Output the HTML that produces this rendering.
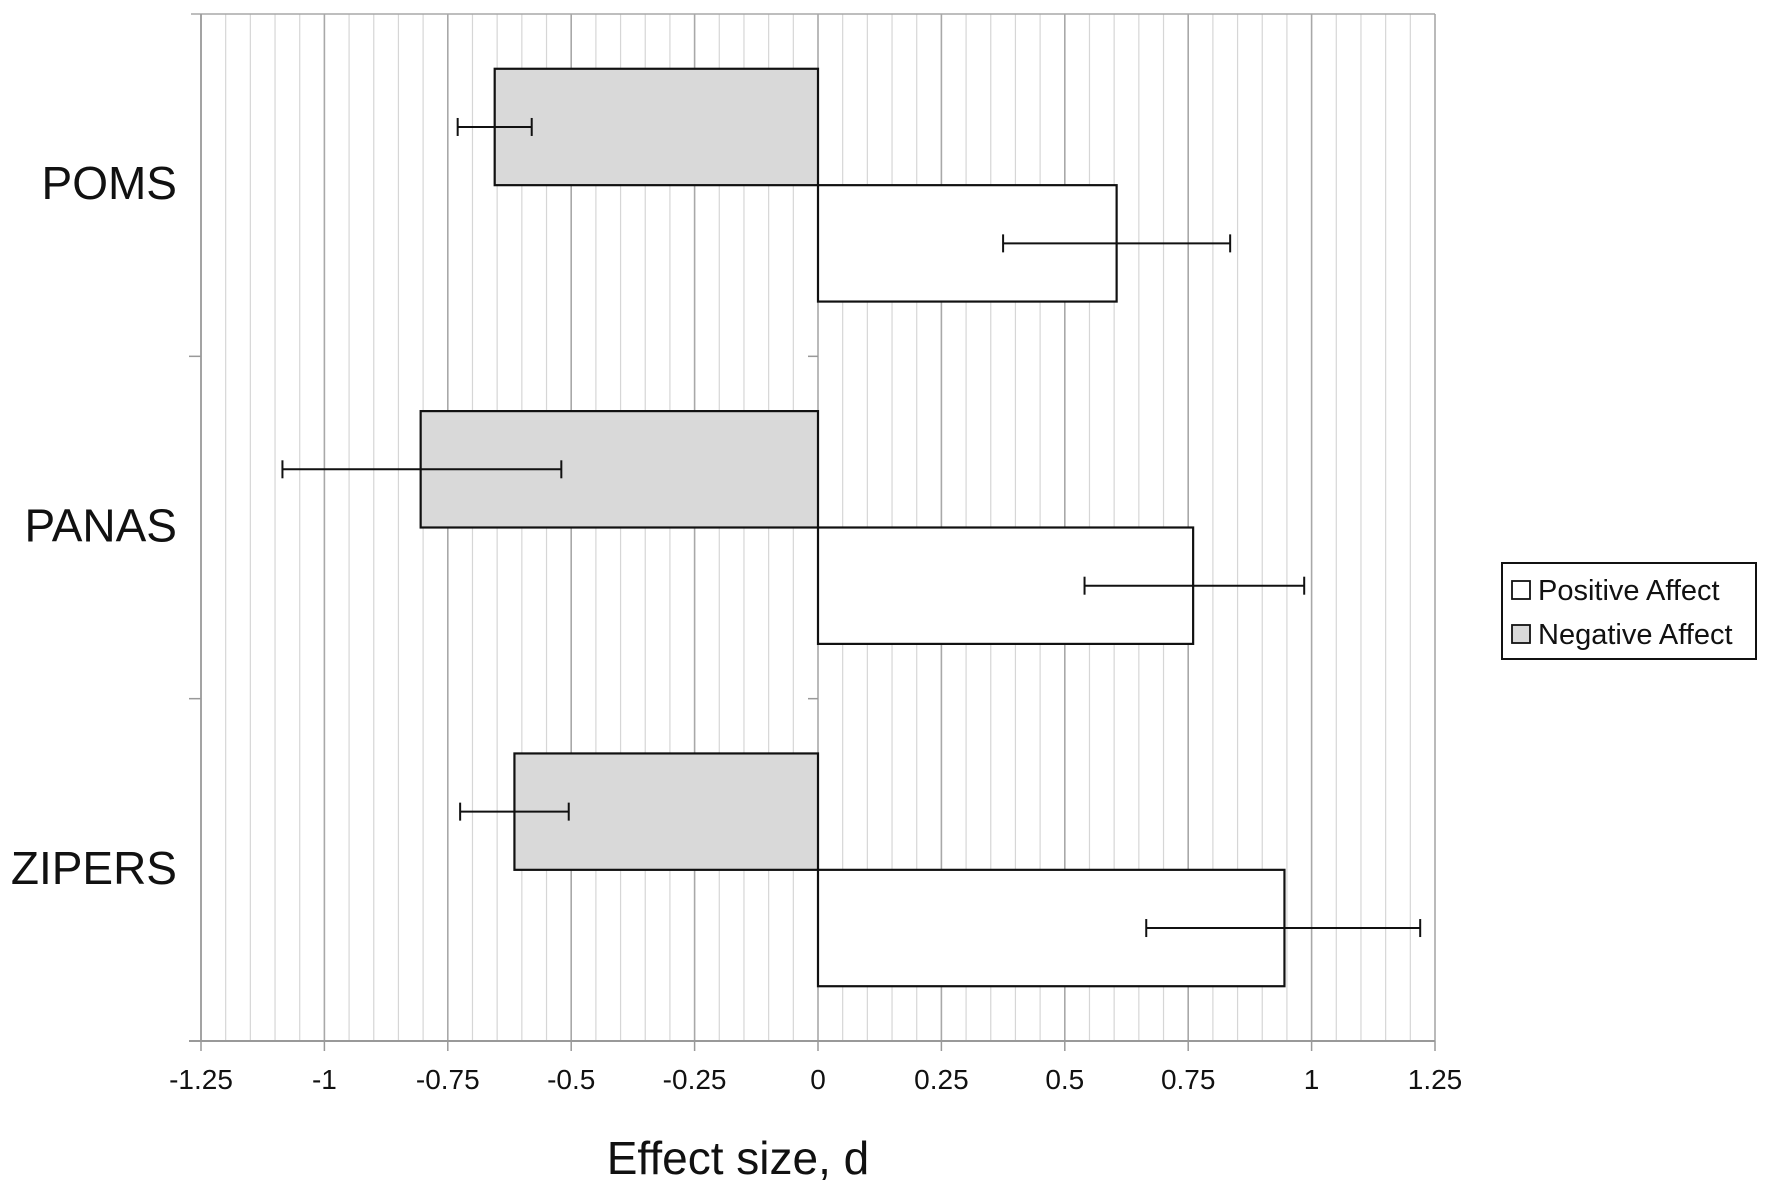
<!DOCTYPE html>
<html><head><meta charset="utf-8"><style>
body{margin:0;background:#fff;}
svg text{font-family:"Liberation Sans",sans-serif;fill:#111;}
</style></head><body>
<svg id="chart" width="1772" height="1190" xmlns="http://www.w3.org/2000/svg"></svg>
<script>
const categories = ["POMS","PANAS","ZIPERS"];
const negValues = [-0.655,-0.805,-0.615];
const negErrLow = [-0.73,-1.085,-0.725];
const negErrHigh = [-0.58,-0.52,-0.505];
const posValues = [0.605,0.76,0.945];
const posErrLow = [0.375,0.54,0.665];
const posErrHigh = [0.835,0.985,1.22];
const tickValues = [-1.25,-1,-0.75,-0.5,-0.25,0,0.25,0.5,0.75,1,1.25];
const tickLabels = ["-1.25","-1","-0.75","-0.5","-0.25","0","0.25","0.5","0.75","1","1.25"];

const NS="http://www.w3.org/2000/svg";
const svg=document.getElementById('chart');
const L=201,R=1435,T=14,B=1041;
const xMin=-1.25,xMax=1.25;
function x(v){return L+(v-xMin)/(xMax-xMin)*(R-L);}
const band=(B-T)/categories.length;
const barH=band*0.34;
function mk(tag,attrs,parent){const e=document.createElementNS(NS,tag);for(const k in attrs)e.setAttribute(k,attrs[k]);(parent||svg).appendChild(e);return e;}

for(let i=0;i<=50;i++){
  const v=xMin+i*0.05;
  const major=i%5===0;
  const g=mk('line',{x1:x(v),x2:x(v),y1:T,y2:B,stroke:major?'#a8a8a8':'#d6d6d6','stroke-width':major?1.6:1.2});
  
  
}
let e;
e=mk('line',{x1:L-10,x2:R,y1:T,y2:T,stroke:'#a8a8a8','stroke-width':1.5});

e=mk('line',{x1:L-12,x2:R,y1:B,y2:B,stroke:'#999','stroke-width':2});

e=mk('line',{x1:L,x2:L,y1:T,y2:B,stroke:'#999','stroke-width':1.6});


tickValues.forEach((v,i)=>{
  const t=mk('line',{x1:x(v),x2:x(v),y1:B,y2:B+10,stroke:'#999','stroke-width':1.5});
  
  const tx=mk('text',{x:x(v),y:B+48,'text-anchor':'middle','font-size':28});
  tx.textContent=tickLabels[i];
  
});
for(let i=1;i<categories.length;i++){
  const yy=T+band*i;
  const t=mk('line',{x1:L-12,x2:L,y1:yy,y2:yy,stroke:'#999','stroke-width':1.5});
  
  const t2=mk('line',{x1:x(0)-10,x2:x(0),y1:yy,y2:yy,stroke:'#999','stroke-width':1.5});
  
}

function errBar(lo,hi,yc,name){
  const g=mk('g',{stroke:'#111','stroke-width':2});
  
  mk('line',{x1:x(lo),x2:x(hi),y1:yc,y2:yc},g);
  mk('line',{x1:x(lo),x2:x(lo),y1:yc-9,y2:yc+9},g);
  mk('line',{x1:x(hi),x2:x(hi),y1:yc-9,y2:yc+9},g);
}

categories.forEach((c,i)=>{
  const yc=T+band*(i+0.5);
  const nv=negValues[i],pv=posValues[i];
  const nb=mk('rect',{x:x(nv),y:yc-barH,width:x(0)-x(nv),height:barH,fill:'#d9d9d9',stroke:'#111','stroke-width':2.2});
  
  const pb=mk('rect',{x:x(0),y:yc,width:x(pv)-x(0),height:barH,fill:'#fff',stroke:'#111','stroke-width':2.2});
  
  errBar(negErrLow[i],negErrHigh[i],yc-barH/2,'error-bar-negative-'+c.toLowerCase());
  errBar(posErrLow[i],posErrHigh[i],yc+barH/2,'error-bar-positive-'+c.toLowerCase());
  const lb=mk('text',{x:177,y:yc+14,'text-anchor':'end','font-size':46});
  lb.textContent=c;
  
});
</script>
<svg style="position:absolute;left:0;top:0" width="1772" height="1190" xmlns="http://www.w3.org/2000/svg">
<text x="738" y="1174" text-anchor="middle" font-size="46">Effect size, d</text>
<g>
<rect x="1502" y="563" width="254" height="96" fill="#fff" stroke="#111" stroke-width="2"/>
<g>
<rect x="1512" y="581" width="18" height="18" fill="#fff" stroke="#111" stroke-width="1.8"/>
<text x="1538" y="600" font-size="29">Positive Affect</text></g>
<g>
<rect x="1512" y="625" width="18" height="18" fill="#d9d9d9" stroke="#111" stroke-width="1.8"/>
<text x="1538" y="644" font-size="29">Negative Affect</text></g>
</g>
</svg>
</body></html>
